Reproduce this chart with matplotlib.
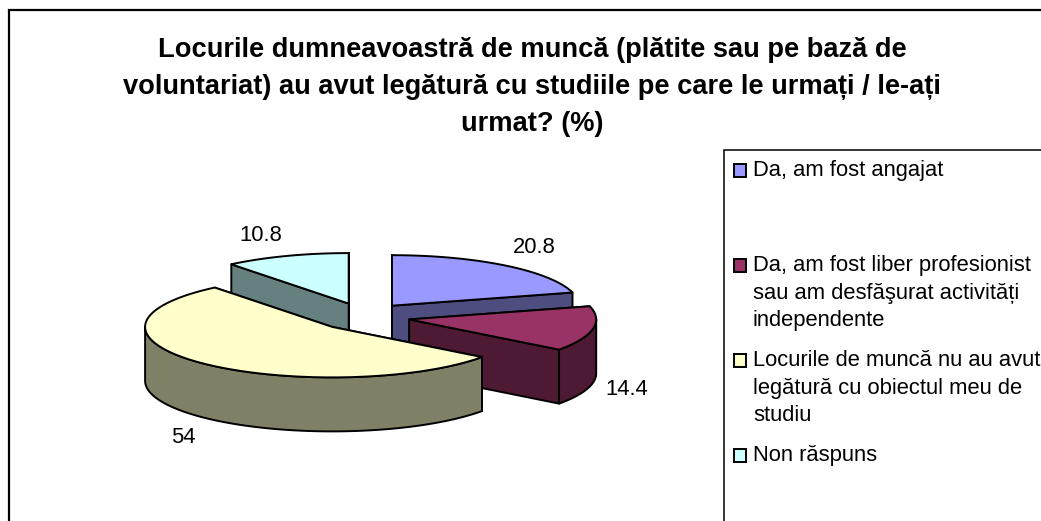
import numpy as np
import matplotlib
matplotlib.use('Agg')
import matplotlib.pyplot as plt
from matplotlib.patches import Polygon, Rectangle

plt.rcParams['font.family'] = ['Liberation Sans', 'DejaVu Sans']

labels = ['Da, am fost angajat',
          'Da, am fost liber profesionist\nsau am desfăşurat activități\nindependente',
          'Locurile de muncă nu au avut\nlegătură cu obiectul meu de\nstudiu',
          'Non răspuns']
values = [20.8, 14.4, 54, 10.8]
value_texts = ['20.8', '14.4', '54', '10.8']
top_colors = ['#9999FF', '#993366', '#FFFFCC', '#CCFFFF']
side_colors = ['#4D4D80', '#4D1933', '#808066', '#668080']
title = ('Locurile dumneavoastră de muncă (plătite sau pe bază de\n'
         'voluntariat) au avut legătură cu studiile pe care le urmați / le-ați\n'
         'urmat? (%)')

# pie geometry, in pixels of the picture
cx, cy = 364, 316.8
rx, ry = 187, 50.5
depth = 54
explode_x, explode_y = 46, 14
edge = 1.4
label_offsets = [(29, 18), (34, -61), (-19, -74), (-26, 20)]
legend_base = [177, 272, 367, 462]


def rim(x0, y0, deg):
    a = np.radians(deg)
    return x0 + rx * np.sin(a), y0 - ry * np.cos(a)


def draw_slice(ax, start, end, top, side):
    mid = np.radians((start + end) / 2)
    x0 = cx + explode_x * np.sin(mid)
    y0 = cy - explode_y * np.cos(mid)
    # the two cut faces
    for deg in (start, end):
        x1, y1 = rim(x0, y0, deg)
        ax.add_patch(Polygon([(x0, y0), (x1, y1), (x1, y1 + depth), (x0, y0 + depth)],
                             fc=side, ec='k', lw=edge, joinstyle='round'))
    # outer wall, only the part that faces the viewer
    lo, hi = max(start, 90), min(end, 270)
    if lo < hi:
        t = np.linspace(lo, hi, 80)
        xs, ys = rim(x0, y0, t)
        pts = np.r_[np.c_[xs, ys], np.c_[xs, ys + depth][::-1]]
        ax.add_patch(Polygon(pts, fc=side, ec='k', lw=edge, joinstyle='round'))
    t = np.linspace(start, end, 120)
    xs, ys = rim(x0, y0, t)
    ax.add_patch(Polygon(np.r_[[(x0, y0)], np.c_[xs, ys]], fc=top, ec='k', lw=edge,
                         joinstyle='round'))
    return x0, y0


fig = plt.figure(figsize=(10.41, 5.21), dpi=100, facecolor='white')
ax = fig.add_axes([0, 0, 1, 1])
ax.set_xlim(0, 1041)
ax.set_ylim(521, 0)
ax.axis('off')

# chart frame and legend box run off the picture
ax.plot([9, 9, 1041], [521, 10, 10], color='k', lw=1.6, solid_joinstyle='miter')
ax.plot([724, 724, 1041], [521, 150, 150], color='k', lw=1.1, solid_joinstyle='miter')

ax.text(532, 87, title, ha='center', va='center', fontsize=19.6, fontweight='bold',
        linespacing=1.55, color='k')

angles = np.r_[0, np.cumsum(values)] / np.sum(values) * 360
order = [3, 0, 1, 2]
for i in order:
    x0, y0 = draw_slice(ax, angles[i], angles[i + 1], top_colors[i], side_colors[i])
    mid = (angles[i] + angles[i + 1]) / 2
    ax.annotate(value_texts[i], rim(x0, y0, mid), xytext=label_offsets[i],
                textcoords='offset pixels', ha='center', va='center', fontsize=15.8,
                zorder=10)

for lab, col, b in zip(labels, top_colors, legend_base):
    ax.add_patch(Rectangle((733.5, b - 13), 12.5, 12.5, fc=col, ec='k', lw=1.4))
    ax.text(753, b - 17, lab, ha='left', va='top', fontsize=15.8, linespacing=1.41,
            color='k', clip_on=True)

fig.savefig('out.png', dpi=100)
